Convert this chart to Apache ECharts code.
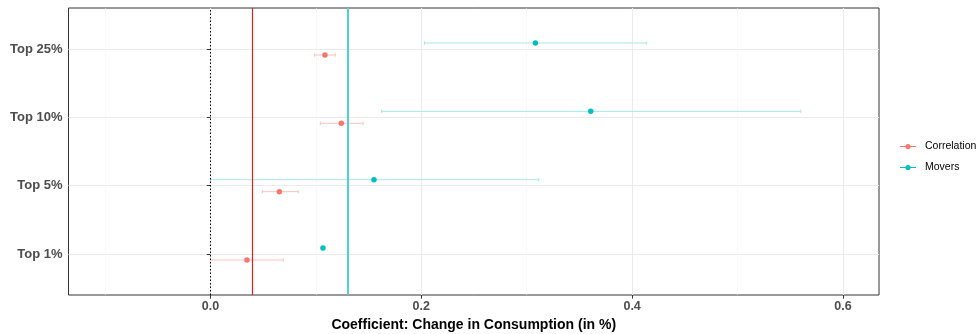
<!DOCTYPE html>
<html>
<head>
<meta charset="utf-8">
<script src="https://cdn.jsdelivr.net/npm/echarts@6/dist/echarts.min.js"></script>
<style>
  html, body { margin: 0; padding: 0; background: #fff; }
  #chart { width: 977px; height: 334px; }
</style>
</head>
<body>
<div id="chart"></div>
<script>
// categories bottom -> top (value axis positions 1..4)
var categories = ['Top 1%', 'Top 5%', 'Top 10%', 'Top 25%'];

var corrEst  = [0.0346, 0.0653, 0.1241, 0.1086];
var corrLow  = [0.0000, 0.0492, 0.1042, 0.0988];
var corrHigh = [0.0690, 0.0833, 0.1447, 0.1184];

var movEst  = [0.1067, 0.1551, 0.3607, 0.3082];
var movLow  = [null,   0.0000, 0.1624, 0.2029];
var movHigh = [null,   0.3114, 0.5600, 0.4138];

var zeroLine = 0;
var corrMean = 0.0422;
var movMean = 0.1314;

var xMajor = [0, 0.2, 0.4, 0.6];
var xMinor = [-0.1, 0.1, 0.3, 0.5];

var dodge = 0.0875;
var font = 'Liberation Sans, Arial, sans-serif';

function pts(est, off) {
  return est.map(function (v, i) { return [v, i + 1 + off]; });
}
function bars(lo, hi, off) {
  var out = [];
  lo.forEach(function (v, i) {
    if (v !== null && hi[i] !== null) out.push([v, hi[i], i + 1 + off]);
  });
  return out;
}
function errRender(color) {
  return function (params, api) {
    var y = api.value(2);
    var a = api.coord([api.value(0), y]);
    var b = api.coord([api.value(1), y]);
    var cap = 1.8;
    var st = { stroke: color, lineWidth: 1 };
    return {
      type: 'group',
      children: [
        { type: 'line', shape: { x1: a[0], y1: a[1], x2: b[0], y2: b[1] }, style: st },
        { type: 'line', shape: { x1: a[0], y1: a[1] - cap, x2: a[0], y2: a[1] + cap }, style: st },
        { type: 'line', shape: { x1: b[0], y1: b[1] - cap, x2: b[0], y2: b[1] + cap }, style: st }
      ]
    };
  };
}

var legendIcon = 'path://M0,4.6 L16,4.6 L16,5.4 L0,5.4 Z M8,7.6 A2.6,2.6 0 1 1 8,2.4 A2.6,2.6 0 1 1 8,7.6 Z';

var chart = echarts.init(document.getElementById('chart'));
var option = {
  backgroundColor: '#fff',
  animation: false,
  textStyle: { fontFamily: font },
  grid: {
    left: 68.5, right: 98, top: 8, bottom: 39,
    outerBoundsMode: 'none',
    show: true, borderColor: '#333', borderWidth: 1, backgroundColor: 'transparent'
  },
  legend: {
    orient: 'vertical',
    left: 895, top: 136,
    itemWidth: 16, itemHeight: 10, itemGap: 10,
    icon: legendIcon,
    textStyle: { fontFamily: font, fontSize: 10.5, color: '#000', padding: [0, 0, 0, 4] },
    data: ['Correlation', 'Movers']
  },
  xAxis: [{
    type: 'value',
    min: -0.1347, max: 0.6342,
    name: 'Coefficient: Change in Consumption (in %)',
    nameLocation: 'middle', nameGap: 22.5,
    nameTextStyle: { fontFamily: font, fontSize: 14, fontWeight: 'bold', color: '#000' },
    axisLine: { show: false },
    axisTick: { show: true, length: 3.7, customValues: xMajor, lineStyle: { color: '#333' } },
    axisLabel: { customValues: xMajor, margin: 5, fontFamily: font, fontSize: 12.5, fontWeight: 'bold', color: '#4D4D4D',
      formatter: function (v) { return v.toFixed(1); } },
    splitLine: { show: true, lineStyle: { color: '#EBEBEB', width: 1.1 } }
  }, {
    type: 'value',
    min: -0.1347, max: 0.6342,
    position: 'bottom',
    axisLine: { show: false },
    axisTick: { show: false, customValues: xMinor },
    axisLabel: { show: false, customValues: xMinor },
    splitLine: { show: true, lineStyle: { color: '#F5F5F5', width: 0.6 } }
  }],
  yAxis: {
    type: 'value',
    min: 0.4, max: 4.6,
    axisLine: { show: false },
    axisTick: { show: true, length: 3.7, customValues: [1, 2, 3, 4], lineStyle: { color: '#333' } },
    axisLabel: { customValues: [1, 2, 3, 4], margin: 6, fontFamily: font, fontSize: 13, fontWeight: 'bold', color: '#4D4D4D',
      formatter: function (v) { return categories[Math.round(v) - 1]; } },
    splitLine: { show: true, lineStyle: { color: '#EBEBEB', width: 1.1 } }
  },
  series: [{
    name: 'Correlation',
    type: 'scatter',
    symbolSize: 5.5,
    itemStyle: { color: '#F8766D', opacity: 1 },
    data: pts(corrEst, -dodge),
    z: 5,
    markLine: {
      silent: true, symbol: 'none', label: { show: false },
      data: [
        { xAxis: zeroLine, lineStyle: { color: '#000', type: [1.5, 2], width: 1 } },
        { xAxis: corrMean, lineStyle: { color: '#E0201F', type: 'solid', width: 1.2 } },
        { xAxis: movMean, lineStyle: { color: '#4FD0D4', type: 'solid', width: 2 } }
      ]
    }
  }, {
    name: 'Movers',
    type: 'scatter',
    symbolSize: 5.5,
    itemStyle: { color: '#00BFC4', opacity: 1 },
    data: pts(movEst, dodge),
    z: 5
  }, {
    name: 'Correlation',
    type: 'custom',
    renderItem: errRender('#FBC3BE'),
    encode: { x: [0, 1], y: 2 },
    data: bars(corrLow, corrHigh, -dodge),
    itemStyle: { color: '#F8766D' },
    z: 3
  }, {
    name: 'Movers',
    type: 'custom',
    renderItem: errRender('#A8E6E8'),
    encode: { x: [0, 1], y: 2 },
    data: bars(movLow, movHigh, dodge),
    itemStyle: { color: '#00BFC4' },
    z: 3
  }]
};
chart.setOption(option);
</script>
</body>
</html>
